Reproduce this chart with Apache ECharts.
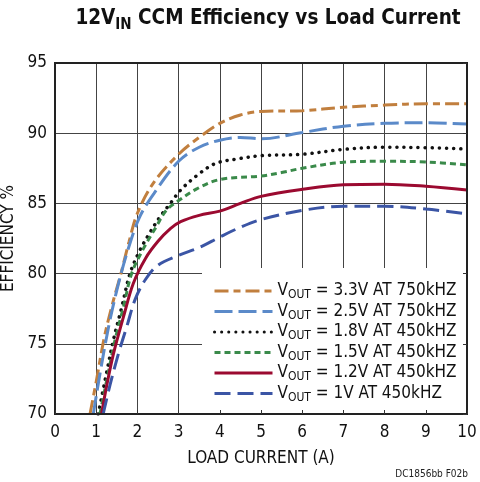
<!DOCTYPE html>
<html>
<head>
<meta charset="utf-8">
<script src="https://cdn.jsdelivr.net/npm/echarts@6/dist/echarts.min.js"></script>
<style>
  html, body { margin: 0; padding: 0; background: #fff; }
  #chart { width: 480px; height: 482px; }
</style>
</head>
<body>
<div id="chart"></div>
<script>
// load current (A), efficiency (%)
const v33 = [[0.85,70],[1.0,72.3],[1.2,75.5],[1.4,77.9],[1.6,80.0],[1.8,82.3],[2.0,84.3],[2.4,86.5],[3.0,88.5],[3.5,89.7],[4.0,90.7],[4.5,91.3],[5,91.55],[6,91.6],[7,91.85],[8,92.0],[9,92.1],[10,92.1]];
const v25 = [[0.93,70],[1.1,73.0],[1.3,76.2],[1.5,78.8],[1.75,81.5],[2.05,84.0],[2.4,85.7],[3.0,88.0],[3.5,89.0],[4,89.5],[4.5,89.7],[5,89.6],[6,90.05],[7,90.5],[8,90.7],[9,90.75],[10,90.65]];
const v18 = [[1.05,70],[1.25,72.9],[1.42,75.3],[1.62,77.6],[1.82,80],[2.05,81.6],[2.3,82.9],[2.55,84.05],[2.8,85.0],[3.05,85.95],[3.45,87.0],[3.9,87.85],[4.5,88.2],[5,88.4],[6,88.5],[7,88.85],[8,89.0],[9,88.97],[10,88.87]];
const v15 = [[1.09,70],[1.29,72.9],[1.46,75.3],[1.66,77.6],[1.86,80],[2.15,81.8],[2.45,83.3],[2.7,84.5],[3.0,85.2],[3.45,86.05],[4,86.7],[5,86.95],[5.5,87.2],[6,87.5],[7,87.93],[8,88.0],[9,87.95],[10,87.75]];
const v12 = [[1.13,70],[1.25,71.95],[1.42,74.3],[1.66,76.9],[1.9,79.3],[2.2,81.1],[2.5,82.3],[2.8,83.2],[3.05,83.7],[3.5,84.15],[4.0,84.45],[4.5,85.0],[5,85.5],[6,86.0],[7,86.33],[8,86.37],[9,86.22],[10,85.95]];
const v10 = [[1.17,70],[1.33,72],[1.54,74.3],[1.74,76.2],[1.95,78.2],[2.2,79.6],[2.5,80.6],[3.0,81.3],[3.5,81.85],[4.0,82.6],[4.5,83.3],[5,83.85],[6,84.5],[7,84.8],[8,84.8],[9,84.6],[10,84.25]];

const seriesNames = ['3.3V AT 750kHZ', '2.5V AT 750kHZ', '1.8V AT 450kHZ', '1.5V AT 450kHZ', '1.2V AT 450kHZ', '1V AT 450kHZ'];
const seriesData = [v33, v25, v18, v15, v12, v10];
const colors = ['#c17f3e', '#5b8ac9', '#111111', '#3a8a4a', '#9b0a30', '#3b55a5'];
const dashes = [[14,5,7,5], [18,6], [0.1,7], [6,4], 'solid', [16,7]];

const font = "'Liberation Sans Narrow', 'DejaVu Sans Condensed', 'Roboto', sans-serif";

const chart = echarts.init(document.getElementById('chart'));

let series = [];
for (let i = 0; i < seriesData.length; i++) {
  series.push({
    name: seriesNames[i],
    type: 'line',
    data: seriesData[i],
    smooth: 0.35,
    symbol: 'none',
    showSymbol: false,
    clip: true,
    lineStyle: {
      color: colors[i],
      width: i === 2 ? 3.5 : 3,
      type: dashes[i],
      cap: i === 2 ? 'round' : 'butt'
    },
    itemStyle: {color: colors[i]}
  });
}

const option = {
  animation: false,
  backgroundColor: '#fff',
  title: {
    text: '12V{s|IN} CCM Efficiency vs Load Current',
    left: 263,
    textAlign: 'center',
    top: 0,
    textStyle: {
      fontFamily: font, fontSize: 20.5, fontWeight: 'bold', color: '#111', lineHeight: 28,
      rich: {s: {fontFamily: font, fontSize: 15, fontWeight: 'bold', color: '#111', lineHeight: 13, verticalAlign: 'bottom'}}
    }
  },
  grid: {left: 55, right: 13, top: 63, bottom: 68, outerBoundsMode: 'none'},
  legend: {
    orient: 'vertical',
    left: 213,
    top: 281,
    padding: 0,
    itemWidth: 58,
    itemHeight: 14,
    itemGap: 0.5,
    itemStyle: {opacity: 0},
    lineStyle: {width: 3},
    formatter: function (name) { return 'V{s|OUT} = ' + name; },
    textStyle: {
      fontFamily: font, fontSize: 17, color: '#111', lineHeight: 20,
      rich: {s: {fontFamily: font, fontSize: 12, color: '#111', lineHeight: 9, verticalAlign: 'bottom'}}
    },
    data: seriesNames
  },
  xAxis: [{
    type: 'value', min: 0, max: 10, interval: 1,
    name: 'LOAD CURRENT (A)', nameLocation: 'middle', nameGap: 36,
    nameTextStyle: {fontFamily: font, fontSize: 17, color: '#111'},
    axisLine: {show: false}, axisTick: {show: false},
    axisLabel: {fontFamily: font, fontSize: 17, color: '#111', margin: 10},
    splitLine: {show: true, lineStyle: {color: '#444', width: 1}}
  }, {
    type: 'value', min: 0, max: 10, interval: 1, position: 'bottom', z: 10,
    axisLine: {show: false, onZero: false}, axisLabel: {show: false}, splitLine: {show: false},
    axisTick: {show: true, inside: true, length: 4, lineStyle: {color: '#333', width: 1}}
  }],
  yAxis: [{
    type: 'value', min: 70, max: 95, interval: 5,
    name: 'EFFICIENCY %', nameLocation: 'middle', nameGap: 36,
    nameTextStyle: {fontFamily: font, fontSize: 17, color: '#111'},
    axisLine: {show: false}, axisTick: {show: false},
    axisLabel: {fontFamily: font, fontSize: 17, color: '#111', margin: 8},
    splitLine: {show: true, lineStyle: {color: '#444', width: 1}}
  }, {
    type: 'value', min: 70, max: 95, interval: 5, position: 'right', z: 10,
    axisLine: {show: false, onZero: false}, axisLabel: {show: false}, splitLine: {show: false},
    axisTick: {show: true, inside: true, length: 4, lineStyle: {color: '#333', width: 1}}
  }],
  graphic: [
    // white box behind the legend
    {type: 'rect', z: 1, shape: {x: 202, y: 268, width: 265, height: 146}, style: {fill: '#fff'}},
    // plot frame
    {type: 'rect', z: 5, shape: {x: 55, y: 63, width: 412, height: 351}, style: {fill: 'none', stroke: '#222', lineWidth: 2}},
    {type: 'text', z: 5, right: 12, bottom: 3, style: {text: 'DC1856bb F02b', font: "10px " + font, fill: '#222'}}
  ],
  series: series
};

chart.setOption(option);
window.addEventListener('resize', () => chart.resize());
</script>
</body>
</html>
